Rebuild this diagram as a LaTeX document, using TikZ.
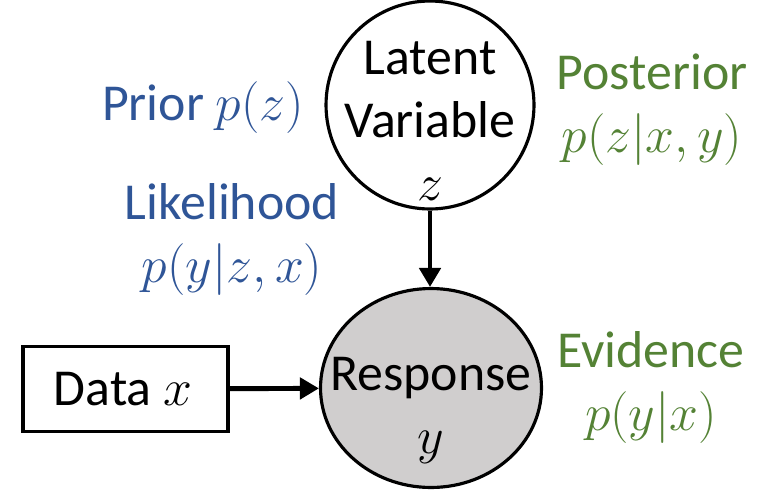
\RequirePackage{fix-cm}
\documentclass[tikz,border=0pt]{standalone}
\usepackage{fontspec}
\setmainfont{Carlito}
\usetikzlibrary{arrows.meta}
\usetikzlibrary{shapes.geometric}
\definecolor{myblue}{RGB}{47,85,151}
\definecolor{mygreen}{RGB}{84,130,53}
\definecolor{mygray}{RGB}{208,206,206}

\begin{document}
\begin{tikzpicture}[x=0.02cm,y=-0.02cm,
  every node/.style={font=\fontsize{29.5}{35.7}\selectfont, inner sep=0pt},
  var/.style={draw, line width=1.8pt},
  link/.style={-{Triangle[length=0.38cm,width=0.42cm]}, line width=2.8pt},
  lbl/.style={align=center, anchor=base}]
\useasboundingbox (0,0) rectangle (759,490);

% variables
\node[var, circle, minimum size=4.16cm] (latent) at (430,105) {};
\node[var, ellipse, fill=mygray, minimum width=4.42cm, minimum height=3.98cm] (response) at (431,388) {};
\node[var, rectangle, minimum width=4.1cm, minimum height=1.7cm] (data) at (125.5,389) {};

% texts, placed at the baseline of their last line
\node[lbl] (latenttxt) at (430,200) {Latent\\Variable\\$z$};
\node[lbl] (responsetxt) at (431,453) {Response\\$y$};
\node[lbl] (datatxt) at (123,405) {Data $x$};

% arrows
\draw[link] (latent) -- (latent |- response.north);
\draw[link] (data) -- (response);

% distributions
\node[lbl, text=myblue] (prior) at (203,120) {Prior $p(z)$};
\node[lbl, text=myblue] (likelihood) at (232,282) {Likelihood\\$p(y|z,x)$};
\node[lbl, text=mygreen] (posterior) at (652,152) {Posterior\\$p(z|x,y)$};
\node[lbl, text=mygreen] (evidence) at (651,430) {Evidence\\$p(y|x)$};
\end{tikzpicture}
\end{document}
